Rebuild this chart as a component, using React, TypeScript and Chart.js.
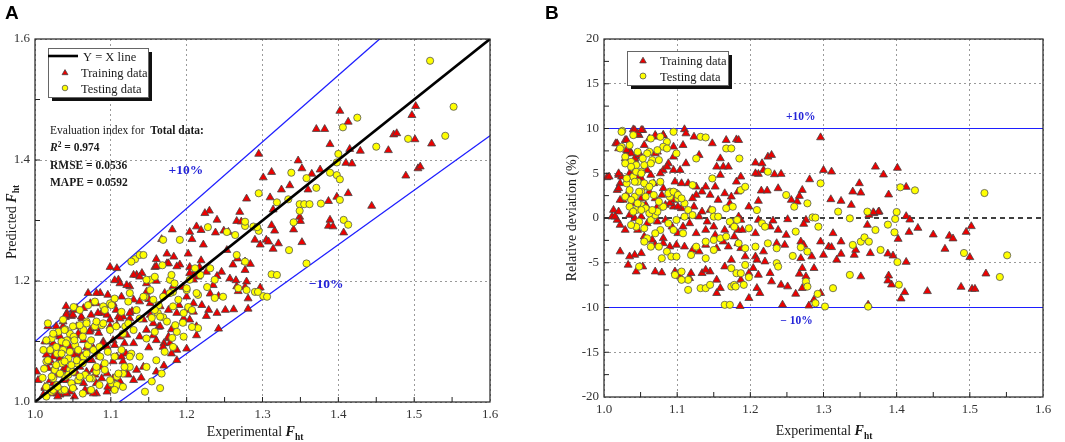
import React, { useEffect, useRef } from 'react';
import { Chart, registerables, ChartConfiguration } from 'chart.js';

Chart.register(...registerables);

const SERIF = '"Liberation Serif", "Times New Roman", serif';
const BLUE = '#1e1eff';
const BLUE_TEXT = '#2323d8';

// ---------- panel A : predicted vs experimental ----------
const aTrain: number[][] = [
  [1.295,1.41],[1.402,1.481],[1.371,1.451],[1.382,1.451],[1.413,1.463],[1.389,1.426],[1.415,1.418],[1.429,1.415],
  [1.41,1.395],[1.418,1.394],[1.347,1.399],[1.352,1.386],[1.301,1.371],[1.312,1.38],[1.365,1.377],[1.376,1.384],
  [1.336,1.358],[1.325,1.351],[1.36,1.351],[1.31,1.338],[1.387,1.332],[1.413,1.345],[1.398,1.339],[1.279,1.336],
  [1.27,1.314],[1.266,1.299],[1.272,1.298],[1.314,1.318],[1.316,1.283],[1.312,1.292],[1.341,1.285],[1.349,1.306],
  [1.35,1.299],[1.389,1.301],[1.387,1.291],[1.393,1.29],[1.407,1.28],[1.352,1.264],[1.305,1.268],[1.297,1.26],
  [1.308,1.265],[1.314,1.253],[1.321,1.262],[1.29,1.268],[1.444,1.324],[1.466,1.416],[1.473,1.442],[1.477,1.444],
  [1.497,1.474],[1.502,1.489],[1.501,1.434],[1.505,1.386],[1.508,1.389],[1.489,1.374],[1.523,1.427],
  [1.23,1.316],[1.224,1.312],[1.24,1.301],[1.213,1.29],[1.219,1.284],[1.204,1.281],[1.207,1.269],[1.238,1.28],
  [1.249,1.283],[1.255,1.281],[1.253,1.251],[1.222,1.26],[1.181,1.285],[1.167,1.269],[1.219,1.234],[1.202,1.245],
  [1.204,1.223],[1.191,1.227],[1.174,1.245],[1.16,1.236],[1.158,1.223],[1.174,1.229],[1.183,1.24],[1.267,1.237],
  [1.277,1.232],[1.284,1.228],[1.261,1.227],[1.277,1.218],[1.246,1.215],[1.257,1.204],[1.265,1.201],[1.24,1.208],
  [1.235,1.193],[1.217,1.223],[1.226,1.215],[1.209,1.211],[1.215,1.207],[1.266,1.191],[1.268,1.183],[1.279,1.199],
  [1.281,1.171],[1.277,1.19],[1.297,1.189],[1.242,1.175],[1.231,1.179],[1.22,1.16],[1.229,1.152],[1.226,1.142],
  [1.24,1.147],[1.251,1.152],[1.262,1.153],[1.281,1.154],[1.242,1.121],[1.2,1.152],[1.209,1.149],[1.213,1.11],
  [1.2,1.088],[1.187,1.069],[1.176,1.105],[1.17,1.097],[1.156,1.11],[1.163,1.124],
  [1.002,1.05],[1.011,1.012],[1.013,1.023],[1.02,1.069],[1.022,1.083],[1.024,1.097],[1.029,1.111],[1.037,1.125],
  [1.042,1.147],[1.051,1.152],[1.062,1.138],[1.064,1.155],[1.073,1.163],[1.07,1.18],[1.086,1.18],[1.081,1.163],
  [1.088,1.147],[1.095,1.144],[1.11,1.141],[1.11,1.202],[1.112,1.196],[1.134,1.21],[1.141,1.213],[1.16,1.224],
  [1.176,1.229],[1.187,1.224],[1.204,1.213],[1.209,1.202],[1.182,1.191],[1.171,1.18],[1.147,1.182],[1.125,1.191],
  [1.13,1.169],[1.138,1.166],[1.152,1.163],[1.165,1.158],[1.176,1.152],[1.187,1.147],[1.196,1.138],[1.204,1.136],
  [1.213,1.125],[1.209,1.163],[1.2,1.174],[1.046,1.091],[1.053,1.08],[1.059,1.069],[1.033,1.075],[1.026,1.058],
  [1.037,1.053],[1.02,1.036],[1.042,1.036],[1.051,1.025],[1.064,1.031],[1.055,1.047],[1.046,1.017],[1.033,1.012],
  [1.077,1.053],[1.088,1.058],[1.075,1.069],[1.084,1.078],[1.095,1.091],[1.103,1.102],[1.112,1.108],[1.121,1.111],
  [1.13,1.097],[1.138,1.108],[1.147,1.119],[1.156,1.13],[1.16,1.102],[1.169,1.091],[1.178,1.097],[1.187,1.086],
  [1.176,1.108],[1.165,1.125],[1.108,1.075],[1.116,1.067],[1.095,1.047],[1.103,1.039],[1.121,1.047],[1.134,1.053],
  [1.143,1.058],[1.13,1.036],[1.105,1.025],[1.114,1.028],[1.081,1.031],[1.07,1.017],[1.095,1.017],[1.064,1.102],
  [1.073,1.119],[1.055,1.125],[1.084,1.114],[1.099,1.125],[1.108,1.127],[1.116,1.141],[1.125,1.138],[1.143,1.136],
  [1.152,1.144],[1.099,1.223],[1.108,1.221],[1.105,1.201],[1.13,1.21],[1.138,1.207],[1.121,1.193],[1.147,1.196],
  [1.081,1.014],[1.103,1.022],[1.029,1.014],[1.042,1.014],[1.04,1.14],[1.048,1.142],[1.015,1.1],[1.018,1.065],
  [1.03,1.045],[1.068,1.09],[1.09,1.1],[1.12,1.08],[1.15,1.09],[1.17,1.06],[1.18,1.12],[1.19,1.16],
  [1.195,1.19],[1.16,1.2],[1.15,1.17],[1.128,1.15],[1.1,1.16],[1.08,1.13],[1.06,1.11],[1.035,1.095],
  [1.14,1.04],[1.16,1.05],[1.18,1.08],
  [1.004,1.036],[1.013,1.025],[1.022,1.014],[1.03,1.009],[1.041,1.014],[1.052,1.009],[1.066,1.02],[1.077,1.014],
  [1.057,1.034],[1.024,1.031],[1.037,1.036],[1.068,1.05],[1.079,1.045],[1.088,1.039],[1.096,1.025],[1.112,1.034],
  [1.123,1.045],[1.017,1.056],[1.026,1.053],[1.041,1.056],[1.059,1.058],[1.072,1.069],[1.085,1.075],[1.103,1.067],
  [1.114,1.075],[1.015,1.078],[1.024,1.075],[1.033,1.072],[1.05,1.078],[1.061,1.078],[1.077,1.089],[1.09,1.097],
  [1.105,1.094],[1.118,1.097],[1.013,1.1],[1.033,1.108],[1.046,1.108],[1.057,1.113],[1.072,1.116],[1.081,1.122],
  [1.099,1.136],[1.112,1.138],[1.125,1.147],[1.017,1.125],[1.028,1.125],[1.037,1.133],[1.041,1.144],[1.05,1.144],
  [1.061,1.141],[1.074,1.144],[1.083,1.147],[1.107,1.152],[1.114,1.174],[1.096,1.177],[1.081,1.18],[1.103,1.163],
  [1.041,1.158],[1.055,1.155],
];

const aTest: number[][] = [
  [1.521,1.564],[1.552,1.488],[1.541,1.44],[1.492,1.435],[1.45,1.422],[1.425,1.47],[1.406,1.454],[1.4,1.41],
  [1.398,1.396],[1.389,1.379],[1.398,1.375],[1.402,1.368],[1.402,1.334],[1.377,1.328],[1.358,1.37],[1.371,1.354],
  [1.338,1.379],[1.334,1.335],[1.319,1.33],[1.349,1.327],[1.355,1.327],[1.362,1.327],[1.349,1.316],[1.341,1.297],
  [1.407,1.301],[1.413,1.293],[1.295,1.345],[1.335,1.251],[1.358,1.229],[1.312,1.211],[1.301,1.175],[1.29,1.182],
  [1.295,1.283],[1.288,1.29],[1.277,1.291],
  [1.132,1.236],[1.138,1.243],[1.127,1.232],[1.191,1.268],[1.169,1.268],[1.143,1.243],[1.228,1.289],[1.253,1.281],
  [1.264,1.276],[1.277,1.298],[1.293,1.289],[1.319,1.21],[1.306,1.174],[1.266,1.243],[1.277,1.232],[1.231,1.221],
  [1.218,1.21],[1.211,1.221],[1.237,1.202],[1.227,1.19],[1.237,1.172],[1.248,1.174],[1.268,1.188],[1.279,1.185],
  [1.294,1.182],[1.204,1.202],[1.2,1.185],[1.215,1.177],[1.202,1.157],[1.215,1.122],[1.207,1.124],[1.181,1.106],
  [1.195,1.131],[1.185,1.127],[1.169,1.14],[1.162,1.147],[1.154,1.139],[1.152,1.202],[1.178,1.202],[1.182,1.182],
  [1.168,1.226],[1.156,1.169],[1.163,1.16],[1.145,1.174],
  [1.015,1.025],[1.024,1.039],[1.026,1.053],[1.035,1.064],[1.029,1.08],[1.037,1.086],[1.042,1.102],[1.035,1.1],
  [1.046,1.113],[1.051,1.108],[1.053,1.094],[1.064,1.119],[1.059,1.127],[1.068,1.133],[1.079,1.125],[1.088,1.127],
  [1.09,1.158],[1.099,1.163],[1.105,1.171],[1.114,1.149],[1.123,1.166],[1.125,1.18],[1.134,1.152],[1.143,1.174],
  [1.152,1.185],[1.158,1.152],[1.165,1.141],[1.169,1.174],[1.178,1.18],[1.182,1.158],[1.189,1.169],[1.174,1.133],
  [1.187,1.116],[1.196,1.108],[1.182,1.091],[1.171,1.083],[1.16,1.069],[1.147,1.058],[1.138,1.075],[1.127,1.08],
  [1.125,1.058],[1.116,1.047],[1.108,1.042],[1.101,1.031],[1.108,1.028],[1.092,1.064],[1.086,1.075],[1.077,1.086],
  [1.07,1.094],[1.064,1.075],[1.055,1.064],[1.046,1.053],[1.04,1.042],[1.048,1.031],[1.057,1.036],[1.066,1.045],
  [1.075,1.039],[1.081,1.05],[1.029,1.028],[1.022,1.017],[1.035,1.02],[1.044,1.072],[1.022,1.105],[1.031,1.116],
  [1.015,1.067],[1.02,1.086],[1.037,1.136],[1.138,1.138],[1.147,1.202],[1.158,1.207],[1.18,1.21],[1.184,1.196],
  [1.2,1.188],[1.196,1.147],[1.207,1.152],[1.213,1.18],[1.13,1.119],[1.119,1.125],[1.147,1.105],[1.158,1.116],
  [1.167,1.047],[1.154,1.034],[1.165,1.023],[1.145,1.017],[1.051,1.157],[1.04,1.12],[1.01,1.04],[1.012,1.055],
  [1.015,1.009],[1.024,1.02],[1.03,1.025],[1.039,1.02],[1.022,1.042],[1.033,1.047],[1.044,1.045],[1.05,1.05],
  [1.059,1.042],[1.028,1.061],[1.039,1.067],[1.048,1.061],[1.055,1.069],[1.063,1.064],[1.035,1.08],[1.046,1.083],
  [1.057,1.086],[1.068,1.08],[1.028,1.091],[1.041,1.097],[1.052,1.102],[1.063,1.108],[1.074,1.102],[1.024,1.113],
  [1.039,1.119],[1.05,1.125],[1.068,1.13],[1.081,1.133],[1.059,1.152],[1.07,1.16],[1.079,1.166],[1.092,1.152],
  [1.101,1.16],[1.09,1.13],[1.099,1.119],[1.107,1.125],[1.116,1.113],[1.123,1.13],[1.085,1.091],[1.096,1.083],
  [1.105,1.075],[1.114,1.086],[1.125,1.075],[1.118,1.058],[1.11,1.047],[1.099,1.036],[1.085,1.028],[1.074,1.02],
  [1.063,1.014],[1.05,1.023],[1.092,1.053],[1.081,1.058],[1.072,1.039],[1.105,1.02],[1.116,1.025],[1.017,1.069],
  [1.011,1.086],[1.015,1.102],[1.017,1.13],
];

const yxLine: number[][] = [[1.0, 1.0], [1.6, 1.6]];
const aUpperLine: number[][] = [[1.0, 1.1], [1.4545, 1.6]];
const aLowerLine: number[][] = [[1.1111, 1.0], [1.6, 1.44]];

const aXTicks = [1.0, 1.1, 1.2, 1.3, 1.4, 1.5, 1.6];
const aXMinor = [1.05, 1.1, 1.15, 1.2, 1.25, 1.3, 1.35, 1.4, 1.45, 1.5, 1.55];
const aYTicks = [1.0, 1.2, 1.4, 1.6];
const aYMinor = [1.1, 1.2, 1.3, 1.4, 1.5];

const statR2 = '0.974';
const statRmse = '0.0536';
const statMape = '0.0592';

// ---------- panel B : relative deviation ----------
const bTrain: number[][] = [
  [1.004,4.54],[1.016,8.33],[1.02,7.77],[1.029,8.7],[1.04,9.89],[1.044,9.44],[1.053,9.81],[1.048,9.26],
  [1.031,7.21],[1.035,7.58],[1.042,6.47],[1.051,6.84],[1.055,8.14],[1.062,8.88],[1.071,9.07],[1.081,9.26],
  [1.095,7.96],[1.108,8.14],[1.11,9.9],[1.112,9.44],[1.123,9.07],[1.148,8.33],[1.167,8.7],[1.181,8.77],
  [1.13,7.03],[1.159,6.65],[1.163,5.72],[1.154,5.72],[1.17,5.72],[1.073,7.4],[1.02,4.8],[1.024,4.61],
  [1.035,4.98],[1.04,5.72],[1.059,5.35],[1.064,4.8],[1.051,4.42],[1.018,3.12],[1.026,2.01],[1.031,2.57],
  [1.037,1.64],[1.013,0.89],[1.011,0.15],[1.022,-0.78],[1.029,-1.34],[1.018,-0.22],[1.042,-0.04],[1.051,0.15],
  [1.059,-0.6],[1.073,-0.41],[1.084,-0.22],[1.093,-0.97],[1.046,-1.34],[1.055,-2.08],[1.066,-2.45],[1.081,-2.27],
  [1.101,-1.71],[1.108,-0.97],[1.117,-0.6],[1.13,0.15],[1.141,-0.41],[1.126,-1.71],[1.139,-1.34],[1.152,-1.9],
  [1.15,-0.97],[1.165,-1.34],[1.176,-0.78],[1.187,-0.22],[1.183,-1.34],[1.178,-2.08],[1.17,-3.2],[1.163,-2.64],
  [1.183,-2.83],[1.187,-3.38],[1.154,-3.38],[1.139,-3.01],[1.13,-3.75],[1.121,-3.57],[1.11,-3.2],[1.099,-3.01],
  [1.09,-3.2],[1.081,-2.83],[1.07,-3.01],[1.051,-3.94],[1.042,-4.13],[1.035,-4.31],[1.022,-3.75],[1.033,-5.24],
  [1.044,-5.99],[1.053,-5.43],[1.07,-5.99],[1.079,-6.1],[1.097,-5.99],[1.104,-6.54],[1.117,-6.73],[1.119,-6.17],
  [1.134,-6.17],[1.145,-5.99],[1.154,-6.91],[1.154,-8.4],[1.159,-7.84],[1.139,-5.8],[1.187,-6.91],[1.186,-9.85],
  [1.165,-5.43],[1.174,-4.68],[1.097,4.05],[1.106,3.87],[1.115,3.87],[1.126,3.49],[1.139,3.49],[1.145,2.57],
  [1.134,2.94],[1.126,2.57],[1.152,3.49],[1.156,2.01],[1.165,2.75],[1.174,2.38],[1.183,2.94],[1.172,1.64],
  [1.181,4.05],[1.159,4.8],[1.104,5.35],[1.112,6.1],[1.095,5.35],[1.081,5.35],[1.088,6.1],[1.022,3.87],
  [1.079,2.57],[1.07,2.19],[1.084,1.45],[1.095,1.26],[1.106,1.08],[1.123,1.26],[1.134,0.71],[1.145,0.89],
  [1.121,2.19],[1.095,2.01],
  [1.042,9.81],[1.046,9.44],[1.051,9.81],[1.07,9.26],[1.081,9.26],[1.018,8.33],[1.031,8.7],[1.031,7.58],
  [1.037,7.21],[1.029,6.65],[1.042,6.65],[1.048,7.03],[1.07,7.21],[1.095,6.84],[1.086,5.72],[1.007,4.61],
  [1.02,4.98],[1.04,4.98],[1.077,4.98],[1.046,4.42],[1.02,3.31],[1.068,3.87],[1.081,3.31],[1.062,2.94],
  [1.022,2.01],[1.051,2.19],[1.073,1.26],[1.09,1.64],[1.101,1.26],[1.02,0.71],[1.057,1.45],[1.035,0.33],
  [1.015,0.15],
  [1.184,8.7],[1.207,6.17],[1.216,6.1],[1.224,6.84],[1.229,7.03],[1.218,5.35],[1.211,4.91],[1.233,4.87],
  [1.242,4.91],[1.207,4.98],[1.187,4.61],[1.296,9.0],[1.3,5.35],[1.311,5.17],[1.281,4.31],[1.371,5.72],
  [1.349,3.87],[1.351,2.82],[1.34,2.94],[1.31,2.08],[1.324,1.9],[1.338,1.45],[1.376,0.71],[1.369,0.52],
  [1.362,0.33],[1.36,-0.78],[1.215,3.05],[1.223,3.05],[1.211,1.9],[1.198,1.26],[1.238,3.31],[1.256,2.01],
  [1.264,1.82],[1.271,3.12],[1.267,2.45],[1.276,-0.22],[1.273,-0.67],[1.251,-0.15],[1.231,-0.3],[1.211,-0.22],
  [1.207,-1.71],[1.189,-1.34],[1.184,0.15],[1.238,-1.34],[1.249,-1.9],[1.227,-0.97],[1.247,-3.01],[1.236,-2.83],
  [1.218,-3.75],[1.207,-4.31],[1.209,-4.68],[1.22,-4.87],[1.193,-4.31],[1.204,-5.61],[1.198,-6.17],[1.211,-6.36],
  [1.227,-6.17],[1.229,-7.1],[1.209,-7.84],[1.213,-8.4],[1.198,-8.96],[1.242,-7.47],[1.251,-7.66],[1.262,-8.48],
  [1.244,-9.7],[1.267,-6.24],[1.271,-5.61],[1.287,-5.61],[1.284,-4.31],[1.269,-2.64],[1.273,-3.01],[1.269,-4.5],
  [1.276,-6.54],[1.271,-7.84],[1.28,-9.8],[1.287,-9.14],[1.296,-8.4],[1.296,-2.64],[1.307,-3.2],[1.311,-3.27],
  [1.3,-4.13],[1.313,-1.71],[1.324,-2.64],[1.318,-4.68],[1.324,-4.01],[1.342,-4.13],[1.344,-3.57],[1.351,-6.54],
  [1.361,-9.7],[1.364,-3.94],
  [1.401,5.59],[1.382,4.84],[1.389,2.61],[1.413,3.46],[1.413,0.19],[1.418,-0.19],[1.429,-1.12],[1.45,-1.86],
  [1.472,-2.0],[1.477,-2.3],[1.466,-3.46],[1.495,-1.57],[1.502,-0.93],[1.5,-4.39],[1.488,-7.71],[1.503,-7.93],
  [1.507,-7.93],[1.522,-6.22],[1.442,-8.19],[1.411,-8.3],[1.406,-9.01],[1.393,-7.45],[1.389,-6.44],[1.388,-7.0],
  [1.395,-4.21],[1.388,-3.99],[1.417,-1.57],[1.413,-4.92],[1.402,-2.35],[1.375,0.67],[1.368,0.63],
];

const bTest: number[][] = [
  [1.025,9.74],[1.04,9.26],[1.064,8.88],[1.077,9.07],[1.095,9.63],[1.132,9.07],[1.139,9.0],[1.086,8.51],
  [1.081,7.96],[1.062,7.4],[1.073,7.58],[1.024,7.96],[1.029,6.84],[1.037,6.28],[1.044,5.91],[1.055,5.91],
  [1.066,6.47],[1.051,5.17],[1.04,4.61],[1.031,3.87],[1.035,3.12],[1.046,4.05],[1.042,2.38],[1.051,2.94],
  [1.059,3.49],[1.066,3.87],[1.051,1.45],[1.057,1.08],[1.044,0.89],[1.048,-0.41],[1.044,-0.97],[1.037,-0.78],
  [1.064,-0.22],[1.07,0.33],[1.062,0.52],[1.055,-1.15],[1.079,1.26],[1.073,0.71],[1.09,2.94],[1.099,2.75],
  [1.101,2.19],[1.11,1.64],[1.115,0.89],[1.11,0.15],[1.121,0.33],[1.099,-0.22],[1.088,-0.6],[1.095,-1.34],
  [1.108,-1.71],[1.077,-1.34],[1.07,-1.71],[1.059,-2.27],[1.055,-2.64],[1.064,-3.2],[1.075,-3.2],[1.086,-3.75],
  [1.079,-4.5],[1.092,-4.31],[1.099,-4.31],[1.048,-5.43],[1.119,-4.13],[1.126,-3.2],[1.139,-2.64],[1.15,-2.45],
  [1.159,-2.27],[1.167,-2.08],[1.139,-4.5],[1.15,-3.57],[1.097,-6.36],[1.106,-5.99],[1.115,-6.91],[1.106,-6.91],
  [1.115,-8.03],[1.132,-7.84],[1.139,-7.84],[1.145,-7.47],[1.165,-9.7],[1.172,-9.7],[1.174,-7.66],[1.178,-7.47],
  [1.174,-5.61],[1.181,-6.17],[1.148,0.89],[1.15,0.15],[1.156,0.15],[1.167,1.08],[1.176,1.26],[1.172,-0.41],
  [1.178,-0.97],[1.148,4.42],[1.167,7.77],[1.174,7.77],[1.185,6.65],[1.187,3.12],[1.099,7.21],[1.126,6.65],
  [1.121,3.68],[1.09,2.38],
  [1.024,9.63],[1.035,8.14],[1.022,7.77],[1.046,7.4],[1.059,7.21],[1.053,6.65],[1.064,6.1],[1.075,6.47],
  [1.086,7.77],[1.029,6.1],[1.037,5.72],[1.044,5.17],[1.051,4.98],[1.031,4.42],[1.042,4.05],[1.055,3.87],
  [1.062,3.49],[1.077,4.05],[1.048,2.94],[1.029,2.38],[1.037,2.01],[1.057,2.38],[1.068,2.57],[1.046,1.64],
  [1.035,1.26],[1.051,0.89],[1.066,0.89],[1.081,1.26],[1.088,2.75],[1.095,2.94],[1.101,2.57],[1.106,2.19],
  [1.075,1.82],[1.04,0.71],
  [1.224,5.17],[1.193,3.49],[1.249,2.57],[1.26,1.26],[1.278,1.64],[1.296,3.87],[1.209,0.89],[1.285,0.07],
  [1.289,0.04],[1.336,-0.04],[1.32,0.71],[1.36,0.71],[1.198,-1.15],[1.182,-0.22],[1.216,-0.6],[1.22,-0.97],
  [1.262,-1.52],[1.293,-0.97],[1.224,-2.83],[1.236,-3.38],[1.193,-3.38],[1.184,-2.83],[1.207,-3.2],[1.269,-3.27],
  [1.278,-3.75],[1.258,-4.24],[1.236,-5.05],[1.238,-5.43],[1.193,-5.24],[1.187,-6.17],[1.198,-6.62],[1.18,-7.66],
  [1.191,-7.47],[1.276,-7.1],[1.278,-7.66],[1.292,-8.48],[1.289,-9.52],[1.313,-7.84],[1.302,-9.89],[1.336,-6.36],
  [1.34,-3.01],[1.351,-2.64],[1.356,-2.16],[1.362,-2.64],[1.378,-3.57],[1.371,-1.34],
  [1.52,2.79],[1.551,-4.17],[1.541,-6.59],[1.492,-3.91],[1.425,3.09],[1.405,3.43],[1.4,0.67],[1.398,-0.11],
  [1.397,-1.6],[1.401,-4.92],[1.403,-7.45],[1.388,-0.74],[1.361,-9.9],
];

const bUpperLine: number[][] = [[1.0, 10], [1.6, 10]];
const bLowerLine: number[][] = [[1.0, -10], [1.6, -10]];
const bZeroLine: number[][] = [[1.0, 0], [1.6, 0]];

const bXTicks = [1.0, 1.1, 1.2, 1.3, 1.4, 1.5, 1.6];
const bXMinor = [1.05, 1.1, 1.15, 1.2, 1.25, 1.3, 1.35, 1.4, 1.45, 1.5, 1.55];
const bYTicks = [-20, -15, -10, -5, 0, 5, 10, 15, 20];
const bYMinor = [-17.5, -15, -12.5, -10, -7.5, -5, -2.5, 0, 2.5, 5, 7.5, 10, 12.5, 15, 17.5];

// ---------- drawing helpers ----------
type Rich = { text: string; font: string; dy?: number; color?: string };

function drawRich(ctx: CanvasRenderingContext2D, parts: Rich[], x: number, y: number, align: 'left' | 'center', angle = 0) {
  ctx.save();
  ctx.translate(x, y);
  ctx.rotate(angle);
  ctx.textAlign = 'left';
  ctx.textBaseline = 'alphabetic';
  let total = 0;
  for (const p of parts) {
    ctx.font = p.font;
    total += ctx.measureText(p.text).width;
  }
  let cx = align === 'center' ? -total / 2 : 0;
  for (const p of parts) {
    ctx.font = p.font;
    ctx.fillStyle = p.color || '#1a1a1a';
    ctx.fillText(p.text, cx, p.dy || 0);
    cx += ctx.measureText(p.text).width;
  }
  ctx.restore();
}

function marker(ctx: CanvasRenderingContext2D, kind: string, x: number, y: number, r: number) {
  ctx.save();
  ctx.lineWidth = 0.8;
  if (kind === 'line') {
    ctx.strokeStyle = '#000';
    ctx.lineWidth = 2.6;
    ctx.beginPath();
    ctx.moveTo(x - r, y);
    ctx.lineTo(x + r, y);
    ctx.stroke();
  } else if (kind === 'tri') {
    ctx.fillStyle = '#ee0000';
    ctx.strokeStyle = '#444';
    ctx.beginPath();
    ctx.moveTo(x, y - r);
    ctx.lineTo(x + r * 0.866, y + r * 0.5);
    ctx.lineTo(x - r * 0.866, y + r * 0.5);
    ctx.closePath();
    ctx.fill();
    ctx.stroke();
  } else {
    ctx.fillStyle = '#ffff00';
    ctx.strokeStyle = '#555';
    ctx.beginPath();
    ctx.arc(x, y, r, 0, Math.PI * 2);
    ctx.fill();
    ctx.stroke();
  }
  ctx.restore();
}

type LegendRow = { kind: string; label: string; mx: number; my: number; r: number; tx: number; ty: number };
type Note = { text: string; x: number; y: number; size: number };
type Deco = {
  letter: { text: string; x: number; y: number };
  xTitle: { x: number; y: number };
  yTitle: { parts: Rich[]; x: number; y: number };
  xMinor: number[];
  yMinor: number[];
  box: number[];
  rows: LegendRow[];
  notes: Note[];
  extra?: (ctx: CanvasRenderingContext2D) => void;
};

const fTitle = (lead: string): Rich[] => [
  { text: lead, font: `14px ${SERIF}` },
  { text: 'F', font: `bold italic 14px ${SERIF}` },
  { text: 'ht', font: `bold 9.5px ${SERIF}`, dy: 3.5 },
];

function decoPlugin(d: Deco) {
  return {
    id: 'deco',
    afterDraw(chart: Chart) {
      const ctx = chart.ctx;
      const { left, right, top, bottom } = chart.chartArea;
      const xs = chart.scales.x;
      const ys = chart.scales.y;
      ctx.save();
      // frame
      ctx.strokeStyle = '#222';
      ctx.lineWidth = 1.2;
      ctx.strokeRect(left, top, right - left, bottom - top);
      // inward ticks
      ctx.lineWidth = 1;
      ctx.beginPath();
      for (const v of d.xMinor) {
        const px = xs.getPixelForValue(v);
        ctx.moveTo(px, bottom);
        ctx.lineTo(px, bottom - 5);
      }
      for (const v of d.yMinor) {
        const py = ys.getPixelForValue(v);
        ctx.moveTo(left, py);
        ctx.lineTo(left + 5, py);
      }
      ctx.stroke();
      // titles
      drawRich(ctx, fTitle('Experimental '), d.xTitle.x, d.xTitle.y, 'center');
      drawRich(ctx, d.yTitle.parts, d.yTitle.x, d.yTitle.y, 'center', -Math.PI / 2);
      // panel letter
      ctx.font = `bold 19px "Liberation Sans", Arial, sans-serif`;
      ctx.fillStyle = '#000';
      ctx.textAlign = 'left';
      ctx.textBaseline = 'alphabetic';
      ctx.fillText(d.letter.text, d.letter.x, d.letter.y);
      // legend box with shadow
      const [bx, by, bw, bh] = d.box;
      ctx.fillStyle = '#111';
      ctx.fillRect(bx + 4, by + 4, bw, bh);
      ctx.fillStyle = '#fff';
      ctx.fillRect(bx, by, bw, bh);
      ctx.strokeStyle = '#666';
      ctx.lineWidth = 1;
      ctx.strokeRect(bx + 0.5, by + 0.5, bw, bh);
      for (const r of d.rows) {
        marker(ctx, r.kind, r.mx, r.my, r.r);
        ctx.font = `12.5px ${SERIF}`;
        ctx.fillStyle = '#1a1a1a';
        ctx.fillText(r.label, r.tx, r.ty);
      }
      // band labels
      ctx.textAlign = 'center';
      ctx.textBaseline = 'middle';
      ctx.fillStyle = BLUE_TEXT;
      for (const n of d.notes) {
        ctx.font = `bold ${n.size}px ${SERIF}`;
        ctx.fillText(n.text, xs.getPixelForValue(n.x), ys.getPixelForValue(n.y));
      }
      if (d.extra) d.extra(ctx);
      ctx.restore();
    },
  };
}

const toPts = (arr: number[][]) => arr.map(([x, y]) => ({ x, y }));

const lineSet = (label: string, arr: number[][], color: string, width: number, order: number, dash: number[] = []) => ({
  label,
  data: toPts(arr),
  showLine: true,
  borderColor: color,
  borderWidth: width,
  borderDash: dash,
  pointRadius: 0,
  pointHoverRadius: 0,
  order,
});

const pointSet = (label: string, arr: number[][], kind: 'tri' | 'dot', order: number) => ({
  label,
  data: toPts(arr),
  pointStyle: kind === 'tri' ? 'triangle' : 'circle',
  pointRadius: kind === 'tri' ? 4.6 : 3.6,
  pointHoverRadius: kind === 'tri' ? 4.6 : 3.6,
  backgroundColor: kind === 'tri' ? '#ee0000' : '#ffff00',
  borderColor: kind === 'tri' ? '#444' : '#555',
  borderWidth: 0.8,
  order,
});

const tickFont = { family: SERIF, size: 13 };

function axes(xTicks: number[], yTicks: number[], ymin: number, ymax: number, yWidth: number, xHeight: number,
  yFmt: (v: number) => string, hideY: number[]) {
  return {
    x: {
      type: 'linear' as const,
      min: 1.0,
      max: 1.6,
      afterBuildTicks: (s: any) => { s.ticks = xTicks.map((v) => ({ value: v })); },
      afterFit: (s: any) => { s.height = xHeight; },
      ticks: { callback: (v: any) => Number(v).toFixed(1), font: tickFont, color: '#333', padding: 5, maxRotation: 0, autoSkip: false },
      grid: { drawTicks: false, color: '#9a9a9a', lineWidth: 1 },
      border: { display: false, dash: [2, 3] },
    },
    y: {
      type: 'linear' as const,
      min: ymin,
      max: ymax,
      afterBuildTicks: (s: any) => { s.ticks = yTicks.map((v) => ({ value: v })); },
      afterFit: (s: any) => { s.width = yWidth; },
      ticks: { callback: (v: any) => yFmt(Number(v)), font: tickFont, color: '#333', padding: 5, autoSkip: false },
      grid: {
        drawTicks: false,
        lineWidth: 1,
        color: (c: any) => (hideY.includes(c.tick?.value) ? 'rgba(0,0,0,0)' : '#9a9a9a'),
      },
      border: { display: false, dash: [2, 3] },
    },
  };
}

function configA(): ChartConfiguration {
  const deco: Deco = {
    letter: { text: 'A', x: 5, y: 19 },
    xTitle: { x: 255, y: 436 },
    yTitle: { parts: fTitle('Predicted '), x: 15.5, y: 222 },
    xMinor: aXMinor,
    yMinor: aYMinor,
    box: [48, 48, 100, 49],
    rows: [
      { kind: 'line', label: 'Y = X line', mx: 63, my: 56, r: 15, tx: 83, ty: 61 },
      { kind: 'tri', label: 'Training data', mx: 65, my: 73, r: 3.4, tx: 81, ty: 77 },
      { kind: 'dot', label: 'Testing data', mx: 65, my: 88, r: 2.8, tx: 81, ty: 92.5 },
    ],
    notes: [
      { text: '+10%', x: 1.199, y: 1.383, size: 13.5 },
      { text: '\u221210%', x: 1.384, y: 1.195, size: 13.5 },
    ],
    extra: (ctx) => {
      const f = `11.5px ${SERIF}`;
      const b = `bold 11.5px ${SERIF}`;
      drawRich(ctx, [{ text: 'Evaluation index for  ', font: f }, { text: 'Total data:', font: b }], 50, 134, 'left');
      drawRich(ctx, [
        { text: 'R', font: `bold italic 11.5px ${SERIF}` },
        { text: '2', font: `bold 7.5px ${SERIF}`, dy: -4.5 },
        { text: ` = ${statR2}`, font: b },
      ], 50, 151, 'left');
      drawRich(ctx, [{ text: `RMSE = ${statRmse}`, font: b }], 50, 169, 'left');
      drawRich(ctx, [{ text: `MAPE = ${statMape}`, font: b }], 50, 186, 'left');
    },
  };
  return {
    type: 'scatter',
    data: {
      datasets: [
        lineSet('Y = X line', yxLine, '#000', 2.6, 1),
        pointSet('Testing data', aTest, 'dot', 2),
        pointSet('Training data', aTrain, 'tri', 3),
        lineSet('+10%', aUpperLine, BLUE, 1.3, 4),
        lineSet('-10%', aLowerLine, BLUE, 1.3, 4),
      ] as any,
    },
    options: {
      responsive: false,
      animation: false,
      events: [],
      layout: { padding: { top: 39, right: 40, left: 0, bottom: 0 } },
      plugins: { legend: { display: false }, tooltip: { enabled: false } },
      scales: axes(aXTicks, aYTicks, 1.0, 1.6, 35, 40, (v) => v.toFixed(1), []) as any,
    },
    plugins: [decoPlugin(deco)],
  };
}

function configB(): ChartConfiguration {
  const deco: Deco = {
    letter: { text: 'B', x: 15, y: 19 },
    xTitle: { x: 294, y: 435 },
    yTitle: { parts: [{ text: 'Relative deviation (%)', font: `14px ${SERIF}` }], x: 46, y: 218 },
    xMinor: bXMinor,
    yMinor: bYMinor,
    box: [97, 51, 101, 34],
    rows: [
      { kind: 'tri', label: 'Training data', mx: 113, my: 61, r: 3.8, tx: 130, ty: 65 },
      { kind: 'dot', label: 'Testing data', mx: 113, my: 76, r: 3, tx: 130, ty: 81 },
    ],
    notes: [
      { text: '+10%', x: 1.269, y: 11.3, size: 11.5 },
      { text: '\u2212 10%', x: 1.263, y: -11.5, size: 11.5 },
    ],
  };
  return {
    type: 'scatter',
    data: {
      datasets: [
        pointSet('Testing data', bTest, 'dot', 2),
        pointSet('Training data', bTrain, 'tri', 3),
        lineSet('zero', bZeroLine, '#000', 1.5, 4, [5, 4]),
        lineSet('+10%', bUpperLine, BLUE, 1.2, 4),
        lineSet('-10%', bLowerLine, BLUE, 1.2, 4),
      ] as any,
    },
    options: {
      responsive: false,
      animation: false,
      events: [],
      layout: { padding: { top: 39, right: 22, left: 0, bottom: 0 } },
      plugins: { legend: { display: false }, tooltip: { enabled: false } },
      scales: axes(bXTicks, bYTicks, -20, 20, 74, 45, (v) => String(v), [0, 10, -10]) as any,
    },
    plugins: [decoPlugin(deco)],
  };
}

function Panel({ make, left, width }: { make: () => ChartConfiguration; left: number; width: number }) {
  const canvasRef = useRef<HTMLCanvasElement | null>(null);
  useEffect(() => {
    const canvas = canvasRef.current;
    if (!canvas) return;
    const chart = new Chart(canvas, make());
    return () => chart.destroy();
  }, [make]);
  return (
    <canvas
      ref={canvasRef}
      width={width}
      height={442}
      style={{ position: 'absolute', left, top: 0, width, height: 442 }}
    />
  );
}

export default function App() {
  useEffect(() => {
    document.body.style.margin = '0';
  }, []);
  return (
    <div style={{ position: 'absolute', left: 0, top: 0, width: 1065, height: 442, background: '#fff', overflow: 'hidden' }}>
      <Panel make={configA} left={0} width={530} />
      <Panel make={configB} left={530} width={535} />
    </div>
  );
}
